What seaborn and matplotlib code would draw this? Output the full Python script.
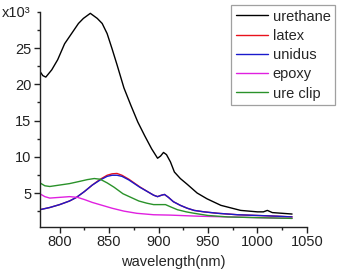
import numpy as np
import pandas as pd
import seaborn as sns
import matplotlib.pyplot as plt
from matplotlib.ticker import MultipleLocator, FixedLocator

# spectra (intensity in units of 10^3)
urethane_wl = [780, 783, 786, 792, 798, 805, 812, 819, 824, 831, 838, 843, 848, 853, 858, 865,
               872, 879, 886, 893, 899, 902, 905, 908, 912, 916, 922, 929, 939, 949, 963, 983,
               1000, 1006, 1010, 1015, 1025, 1035]
urethane = [21.8, 21.2, 21.0, 22.0, 23.4, 25.6, 27.0, 28.4, 29.1, 29.8, 29.1, 28.4, 27.0, 24.9, 22.7, 19.5,
            17.1, 14.8, 12.9, 11.1, 9.8, 10.1, 10.6, 10.3, 9.3, 7.9, 7.0, 6.2, 5.0, 4.2, 3.3, 2.6,
            2.4, 2.4, 2.6, 2.3, 2.2, 2.1]

latex_wl = [780, 790, 800, 810, 817, 825, 833, 841, 848, 853, 858, 863, 870, 881, 890, 895, 899,
            903, 906, 910, 915, 922, 929, 936, 946, 960, 980, 1000, 1020, 1035]
latex = [2.7, 3.0, 3.4, 3.9, 4.4, 5.2, 6.1, 6.9, 7.45, 7.65, 7.7, 7.45, 6.9, 5.85, 5.1, 4.7, 4.5,
         4.7, 4.8, 4.4, 3.8, 3.3, 2.9, 2.6, 2.4, 2.2, 2.0, 1.9, 1.8, 1.7]

unidus_wl = [780, 790, 800, 810, 817, 825, 833, 841, 848, 853, 858, 863, 870, 881, 890, 895, 899,
             903, 906, 910, 915, 922, 929, 936, 946, 960, 980, 1000, 1020, 1035]
unidus = [2.7, 3.0, 3.4, 3.9, 4.4, 5.2, 6.1, 6.8, 7.3, 7.45, 7.45, 7.3, 6.8, 5.8, 5.1, 4.7, 4.5,
          4.7, 4.8, 4.4, 3.8, 3.3, 2.9, 2.6, 2.4, 2.2, 2.0, 1.9, 1.8, 1.7]

epoxy_wl = [780, 785, 790, 800, 810, 818, 825, 833, 843, 853, 865, 878, 895, 912, 940, 970, 1000, 1035]
epoxy = [4.9, 4.5, 4.3, 4.4, 4.5, 4.4, 4.1, 3.7, 3.3, 2.9, 2.5, 2.2, 2.0, 1.95, 1.8, 1.7, 1.6, 1.5]

ureclip_wl = [780, 785, 790, 800, 810, 820, 828, 835, 841, 848, 855, 864, 872, 880, 888, 895, 902,
              907, 912, 919, 928, 936, 950, 970, 1000, 1035]
ureclip = [6.4, 6.0, 5.9, 6.1, 6.3, 6.6, 6.85, 7.0, 6.9, 6.4, 5.8, 4.9, 4.4, 3.9, 3.6, 3.4, 3.4,
           3.4, 3.1, 2.7, 2.4, 2.2, 1.9, 1.7, 1.6, 1.5]

names = ['urethane', 'latex', 'unidus', 'epoxy', 'ure clip']
colors = {'urethane': '#000000', 'latex': '#e8121c', 'unidus': '#1a1acc',
          'epoxy': '#e020e0', 'ure clip': '#2a922a'}

parts = []
for name, wl, val in [('urethane', urethane_wl, urethane), ('latex', latex_wl, latex),
                      ('unidus', unidus_wl, unidus), ('epoxy', epoxy_wl, epoxy),
                      ('ure clip', ureclip_wl, ureclip)]:
    parts.append(pd.DataFrame({'wavelength': wl, 'intensity': val, 'sample': name}))
df = pd.concat(parts, ignore_index=True)

sns.set_style('ticks')
plt.rcParams['font.family'] = ['Liberation Sans', 'DejaVu Sans']

fig = plt.figure(figsize=(3.38, 2.70), dpi=100)
ax = fig.add_axes([0.118, 0.159, 0.79, 0.797])

sns.lineplot(data=df, x='wavelength', y='intensity', hue='sample', hue_order=names,
             palette=colors, sort=False, estimator=None, linewidth=1.0, ax=ax)

ax.set_xlim(780, 1050)
ax.set_ylim(0.3, 30)
ax.xaxis.set_major_locator(MultipleLocator(50))
ax.xaxis.set_minor_locator(MultipleLocator(25))
ax.yaxis.set_major_locator(FixedLocator([5, 10, 15, 20, 25]))
ax.yaxis.set_minor_locator(MultipleLocator(2.5))
ax.tick_params(which='major', length=4, width=1, labelsize=10.5, colors='#222222', pad=2)
ax.tick_params(which='minor', length=2.5, width=1, colors='#222222')
sns.despine(ax=ax)
for s in ['left', 'bottom']:
    ax.spines[s].set_color('#222222')
    ax.spines[s].set_linewidth(1)

ax.set_xlabel('wavelength(nm)', fontsize=10.5, labelpad=4)
ax.set_ylabel('')
fig.text(0.004, 0.952, 'x10³', fontsize=10.5, ha='left', va='center', color='#222222')

handles, labels = ax.get_legend_handles_labels()
leg = ax.legend(handles, labels, loc='upper right', bbox_to_anchor=(0.991, 0.981),
                bbox_transform=fig.transFigure, fontsize=10.5, frameon=True, fancybox=False,
                handlelength=2.2, handletextpad=0.35, labelspacing=0.36, borderpad=0.3,
                borderaxespad=0)
leg.get_frame().set_edgecolor('#888888')
leg.get_frame().set_linewidth(0.9)
for line in leg.get_lines():
    line.set_linewidth(1.0)

fig.savefig('out.png', dpi=100)
